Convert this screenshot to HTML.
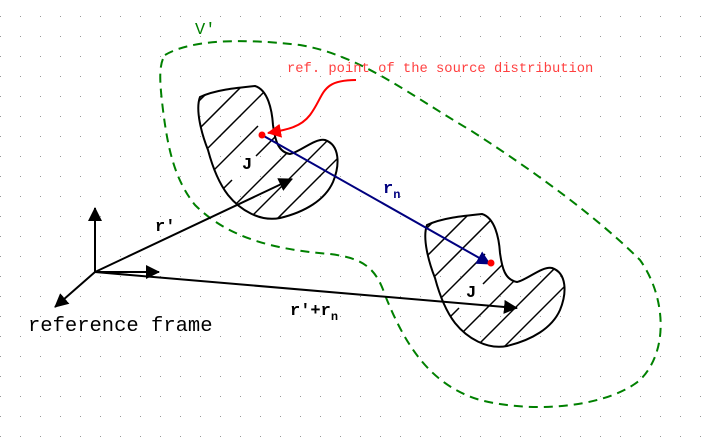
<!DOCTYPE html>
<html><head><style>body{margin:0;background:#fff}svg{display:block}</style></head><body>
<svg width="715" height="444" viewBox="0 0 715 444" xmlns="http://www.w3.org/2000/svg">
<defs>
<pattern id="dots" x="0" y="16" width="20" height="20" patternUnits="userSpaceOnUse"><rect x="0" y="0" width="1" height="1" fill="#999"/></pattern>
<path id="blob" d="M200,97 C215,90 235,88 255,86 C268,90 272,110 273,125 C275,140 278,152 290,154 C300,152 315,138 325,140 C340,145 340,165 333,182 C325,200 305,212 280,218 C260,222 240,210 228,195 C218,182 212,165 208,150 C202,135 195,110 200,97 Z"/>
<clipPath id="c1"><use href="#blob"/></clipPath>
<clipPath id="c2"><use href="#blob" transform="translate(227,128)"/></clipPath>
<g id="hatch" stroke="#000" stroke-width="1.5">
<line x1="150" y1="150" x2="250" y2="50"/>
<line x1="150" y1="178" x2="278" y2="50"/>
<line x1="150" y1="206" x2="306" y2="50"/>
<line x1="170" y1="214" x2="258" y2="126"/>
<line x1="190" y1="222" x2="232" y2="180"/><line x1="256" y1="156" x2="362" y2="50"/>
<line x1="210" y1="230" x2="390" y2="50"/>
<line x1="230" y1="238" x2="400" y2="68"/>
<line x1="250" y1="246" x2="400" y2="96"/>
<line x1="270" y1="254" x2="400" y2="124"/>
</g>
<marker id="ah" markerWidth="14" markerHeight="14" refX="13" refY="7" orient="auto" markerUnits="userSpaceOnUse" viewBox="0 0 14 14"><path d="M0,0 L14,7 L0,14 Z" fill="#000"/></marker>
<marker id="ahn" markerWidth="14" markerHeight="14" refX="13" refY="7" orient="auto" markerUnits="userSpaceOnUse" viewBox="0 0 14 14"><path d="M0,0 L14,7 L0,14 Z" fill="#00007f"/></marker>
<marker id="ahr" markerWidth="14" markerHeight="14" refX="13" refY="7" orient="auto" markerUnits="userSpaceOnUse" viewBox="0 0 14 14"><path d="M0,0 L14,7 L0,14 Z" fill="red"/></marker>
</defs>
<rect width="715" height="444" fill="url(#dots)"/>
<path d="M165,55 C190,40 240,38 300,45 C360,55 410,95 470,130 C540,175 600,220 640,260 C665,295 670,350 640,380 C610,405 540,415 480,400 C430,385 405,345 385,295 C375,265 360,258 330,254 C280,250 230,240 195,205 C175,180 168,150 163,110 C160,85 158,65 165,55 Z" fill="none" stroke="#008000" stroke-width="2" stroke-dasharray="9,6"/>
<g clip-path="url(#c1)"><use href="#hatch"/></g>
<g clip-path="url(#c2)"><use href="#hatch" transform="translate(227,128)"/></g>
<use href="#blob" fill="none" stroke="#000" stroke-width="2"/>
<use href="#blob" transform="translate(227,128)" fill="none" stroke="#000" stroke-width="2"/>
<g stroke="#000" stroke-width="2" fill="none">
<line x1="95" y1="272" x2="95" y2="208" marker-end="url(#ah)"/>
<line x1="95" y1="272" x2="159" y2="272" marker-end="url(#ah)"/>
<line x1="95" y1="272" x2="55" y2="307" marker-end="url(#ah)"/>
<line x1="95" y1="272" x2="292" y2="179" marker-end="url(#ah)"/>
<line x1="95" y1="272" x2="517" y2="308" marker-end="url(#ah)"/>
</g>
<line x1="262" y1="135" x2="490" y2="264" stroke="#00007f" stroke-width="2" marker-end="url(#ahn)"/>
<path d="M356,80 C320,80 325,95 310,115 C300,128 285,130 268,133" fill="none" stroke="red" stroke-width="2" marker-end="url(#ahr)"/>
<circle cx="262" cy="135" r="3.5" fill="red"/>
<circle cx="491" cy="263" r="3.5" fill="red"/>
<g font-family="Liberation Mono, monospace">
<text x="195" y="34" font-size="17" fill="#008000">V'</text>
<text x="287" y="72" font-size="13.8" fill="#ff4040">ref. point of the source distribution</text>
<text x="242" y="169" font-size="17" font-weight="bold">J</text>
<text x="466" y="297" font-size="17" font-weight="bold">J</text>
<text x="155" y="231" font-size="17" font-weight="bold">r'</text>
<text x="383" y="193" font-size="17" font-weight="bold" fill="#00007f">r<tspan font-size="12" dy="5">n</tspan></text>
<text x="290" y="315" font-size="17" font-weight="bold">r'+r<tspan font-size="12" dy="5">n</tspan></text>
<text x="28" y="331" font-size="20.5">reference frame</text>
</g>
</svg>
</body></html>
